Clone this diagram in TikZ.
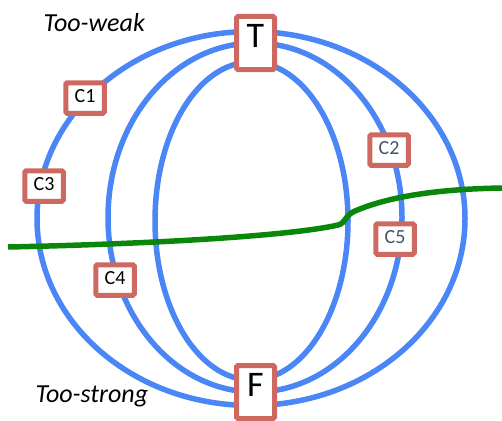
\documentclass[tikz,border=0pt]{standalone}
\usepackage{fontspec}
\setmainfont{Carlito}
\definecolor{ringblue}{HTML}{4A86F5}
\definecolor{boxred}{HTML}{CD6961}
\definecolor{cutgreen}{HTML}{0A870A}
\definecolor{labelgrey}{HTML}{44546A}

\begin{document}
\begin{tikzpicture}[x=1pt, y=-1pt,
  ring/.style={draw=ringblue, line width=5.5pt},
  cutline/.style={draw=cutgreen, line width=5.5pt},
  valbox/.style={draw=boxred, fill=white, line width=5pt, rounded corners=1.5pt, inner sep=0pt,
    minimum width=38pt, minimum height=53pt, font=\fontsize{36}{40}\selectfont, text height=0.84em, text depth=0pt},
  cbox/.style={draw=boxred, fill=white, line width=5pt, rounded corners=1.5pt, inner sep=0pt,
    minimum width=38.5pt, minimum height=30.5pt, font=\fontsize{20}{24}\selectfont, text height=0.96em, text depth=0pt},
  side/.style={anchor=base west, font=\fontsize{26}{30}\selectfont\itshape}]

\useasboundingbox (0,0) rectangle (502,420);

\draw[ring] (251,218.5) ellipse [x radius=214, y radius=187];
\draw[ring] (255,217.5) ellipse [x radius=147, y radius=174.5];
\draw[ring] (251.5,221) ellipse [x radius=96.5, y radius=159];

\draw[cutline] (8,247) .. controls (150,244) and (290,236) .. (338,225)
  .. controls (346,223) and (344,216) .. (355,211)
  .. controls (390,196) and (440,189) .. (502,188);

\node[valbox] at (255.5,43) (top) {T};
\node[valbox] at (255.5,392) (bottom) {F};

\node[cbox] at (85,98) (c1) {C1};
\node[cbox, text=labelgrey] at (389,150) (c2) {C2};
\node[cbox] at (44,186) (c3) {C3};
\node[cbox] at (115,280) (c4) {C4};
\node[cbox, text=labelgrey] at (395,239) (c5) {C5};

\node[side] at (40,32) (weak) {Too-weak};
\node[side] at (32,402) (strong) {Too-strong};
\end{tikzpicture}
\end{document}
